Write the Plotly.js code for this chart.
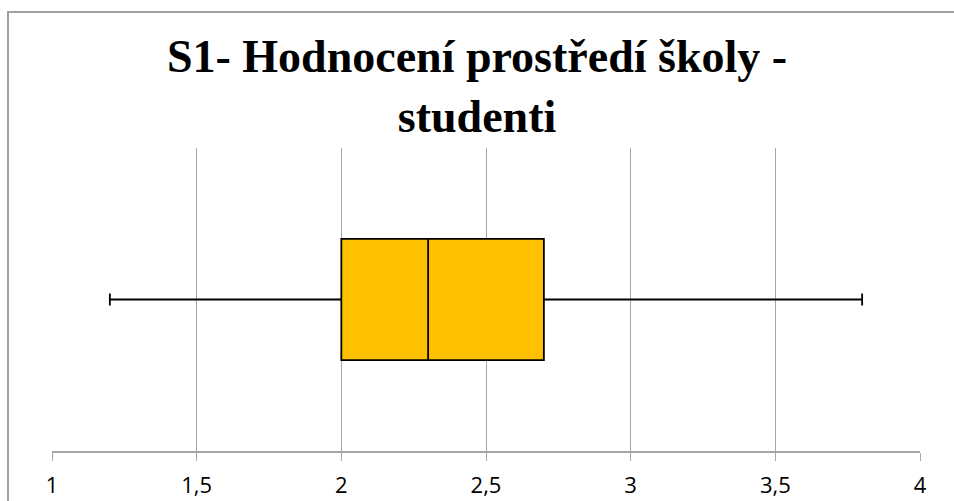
<!DOCTYPE html>
<html>
<head>
<meta charset="utf-8">
<script src="https://cdn.plot.ly/plotly-3.0.1.min.js"></script>
<style>
html,body{margin:0;padding:0;background:#fff;}
#wrap{position:relative;width:954px;height:501px;overflow:hidden;}
#chart{position:absolute;left:0;top:0;width:954px;height:501px;}
#frame{position:absolute;left:7px;top:11px;width:1000px;height:600px;border-left:2px solid #a0a0a0;border-top:2px solid #a0a0a0;pointer-events:none;}
</style>
</head>
<body>
<div id="wrap"><div id="chart"></div><div id="frame"></div></div>
<script>
// Data
const seriesName = 'S1';
const lowerFence = [1.2];
const q1Values = [2.0];
const medianValues = [2.3];
const q3Values = [2.7];
const upperFence = [3.8];
const tickValues = [1, 1.5, 2, 2.5, 3, 3.5, 4];
const tickLabels = ['1', '1,5', '2', '2,5', '3', '3,5', '4'];
const titleText = 'S1- Hodnocení prostředí školy -<br>studenti';

const trace = {
  type: 'box',
  orientation: 'h',
  name: seriesName,
  y: [0],
  lowerfence: lowerFence,
  q1: q1Values,
  median: medianValues,
  q3: q3Values,
  upperfence: upperFence,
  boxpoints: false,
  width: 0.4,
  whiskerwidth: 0.1,
  fillcolor: '#FFC000',
  line: {color: '#000000', width: 1.8},
  hoverinfo: 'skip'
};

const layout = {
  width: 954,
  height: 501,
  margin: {l: 52, r: 34, t: 148, b: 50},
  paper_bgcolor: '#ffffff',
  plot_bgcolor: '#ffffff',
  showlegend: false,
  separators: ', ',
  title: {
    text: titleText,
    font: {family: 'Liberation Serif, Times New Roman, serif', size: 46, color: '#000000', weight: 'bold'},
    x: 0.5, xanchor: 'center',
    y: 1 - 72/501, yanchor: 'top', yref: 'container'
  },
  xaxis: {
    range: [1, 4],
    tickmode: 'array',
    tickvals: tickValues,
    ticktext: tickLabels,
    showgrid: true,
    gridcolor: '#a6a6a6',
    gridwidth: 1,
    showline: true,
    linecolor: '#a6a6a6',
    linewidth: 1.5,
    ticks: 'outside',
    ticklen: 8,
    tickcolor: '#a6a6a6',
    tickwidth: 1,
    ticklabelstandoff: 6,
    zeroline: false,
    tickfont: {family: 'Open Sans, Liberation Sans, sans-serif', size: 22, color: '#000000'},
    fixedrange: true
  },
  yaxis: {
    range: [-0.5, 0.5],
    showticklabels: false,
    showgrid: false,
    zeroline: false,
    showline: false,
    ticks: '',
    fixedrange: true
  }
};

Plotly.newPlot('chart', [trace], layout, {displayModeBar: false, staticPlot: true});
</script>
</body>
</html>
